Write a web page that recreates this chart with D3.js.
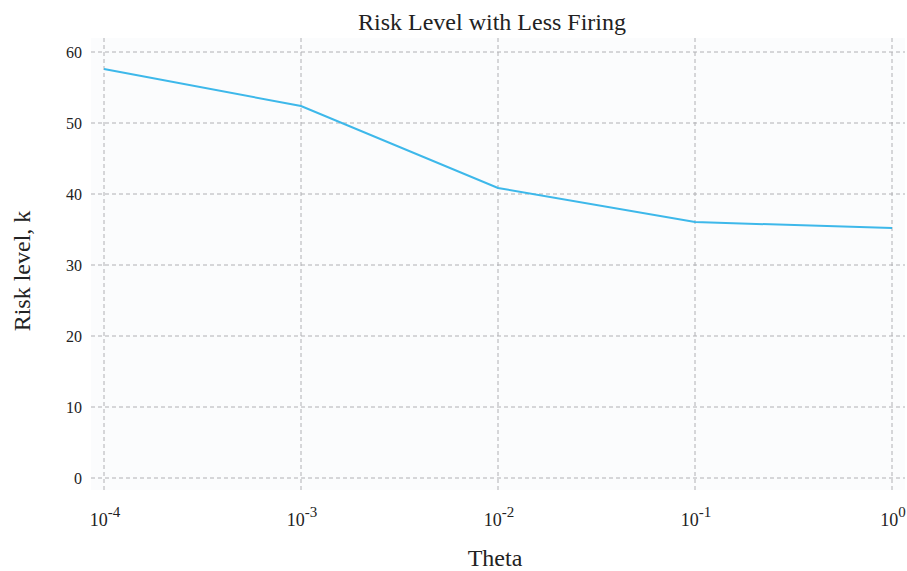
<!DOCTYPE html>
<html>
<head>
<meta charset="utf-8">
<script src="https://cdn.jsdelivr.net/npm/d3@7"></script>
<style>
  body { margin: 0; background: #fff; }
  text { font-family: "Liberation Serif", "Times New Roman", serif; fill: #222; }
</style>
</head>
<body>
<div id="chart"></div>
<script>
const thetaValues = [1e-4, 1e-3, 1e-2, 1e-1, 1];
const riskLevels = [57.6, 52.4, 40.85, 36.05, 35.2];
const yTicks = [0, 10, 20, 30, 40, 50, 60];
const xTickExponents = [-4, -3, -2, -1, 0];

const W = 907, H = 571;
const plot = { left: 91, right: 905, top: 38, bottom: 490 };

const svg = d3.select("#chart").append("svg")
    .attr("width", W)
    .attr("height", H);

const x = d3.scaleLog()
    .domain([1e-4, 1])
    .range([104, 892]);

const y = d3.scaleLinear()
    .domain([0, 60])
    .range([478, 52]);

// background
svg.append("rect")
    .attr("x", plot.left)
    .attr("y", plot.top)
    .attr("width", plot.right - plot.left)
    .attr("height", plot.bottom - plot.top)
    .style("fill", "#fbfcfd");

// grid
svg.append("g")
    .selectAll("line")
    .data(yTicks)
    .join("line")
    .attr("x1", plot.left)
    .attr("x2", plot.right)
    .attr("y1", d => y(d))
    .attr("y2", d => y(d))
    .style("stroke", "#b0b0b4")
    .style("stroke-width", 1)
    .style("stroke-dasharray", "4,3");

svg.append("g")
    .selectAll("line")
    .data(thetaValues)
    .join("line")
    .attr("x1", d => x(d))
    .attr("x2", d => x(d))
    .attr("y1", plot.top)
    .attr("y2", plot.bottom)
    .style("stroke", "#b0b0b4")
    .style("stroke-width", 1)
    .style("stroke-dasharray", "4,3");

// y tick labels
svg.append("g")
    .selectAll("text")
    .data(yTicks)
    .join("text")
    .attr("x", 82)
    .attr("y", d => y(d))
    .attr("dy", "0.35em")
    .attr("text-anchor", "end")
    .style("font-size", "16px")
    .text(d => d);

// x tick labels, 10 with superscript exponent
const xt = svg.append("g")
    .selectAll("text")
    .data(xTickExponents)
    .join("text")
    .attr("x", d => x(Math.pow(10, d)) + 1)
    .attr("y", 526)
    .attr("text-anchor", "middle")
    .style("font-size", "18px");
xt.append("tspan").text("10");
xt.append("tspan")
    .attr("dy", -9)
    .style("font-size", "15px")
    .text(d => d);

// line
svg.append("path")
    .datum(thetaValues.map((t, i) => [t, riskLevels[i]]))
    .attr("d", d3.line().x(d => x(d[0])).y(d => y(d[1])))
    .style("fill", "none")
    .style("stroke", "#3db8ea")
    .style("stroke-width", 2);

// title and axis labels
svg.append("text")
    .attr("x", 492)
    .attr("y", 30)
    .attr("text-anchor", "middle")
    .style("font-size", "24px")
    .text("Risk Level with Less Firing");

svg.append("text")
    .attr("x", 495)
    .attr("y", 566)
    .attr("text-anchor", "middle")
    .style("font-size", "24px")
    .text("Theta");

svg.append("text")
    .attr("transform", "translate(30, 271) rotate(-90)")
    .attr("text-anchor", "middle")
    .style("font-size", "24px")
    .text("Risk level, k");
</script>
</body>
</html>
